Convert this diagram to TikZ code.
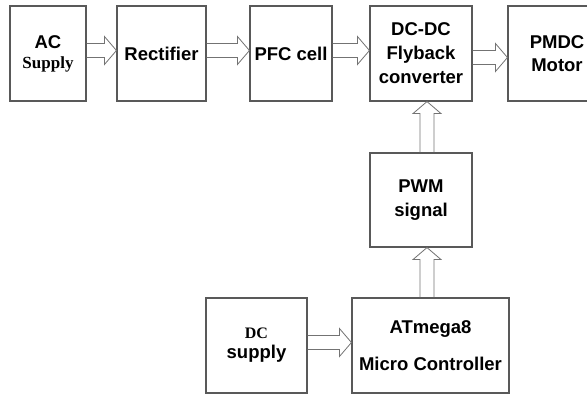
\documentclass[tikz,border=0pt]{standalone}
\usepackage{fontspec}
\setmainfont{Liberation Sans}
\newfontfamily\timesfont{Liberation Serif}
\usetikzlibrary{calc}
% hollow block arrow between two points
\newcommand{\blockarrow}[2]{%
  \coordinate (tail) at (#1);
  \coordinate (tip) at (#2);
  \coordinate (head) at ($(tip)!12pt!(tail)$);
  \draw[flow] ($(tail)!7pt!90:(tip)$) -- ($(head)!7pt!90:(tip)$) -- ($(head)!14pt!90:(tip)$) -- (tip)
    -- ($(head)!14pt!-90:(tip)$) -- ($(head)!7pt!-90:(tip)$) -- ($(tail)!7pt!-90:(tip)$);
}
\begin{document}
\begin{tikzpicture}[x=1pt, y=-1pt,
  block/.style={draw=black!65, line width=1.1pt, minimum height=95pt, inner sep=0pt, align=center,
    font=\fontsize{18.5}{24}\selectfont\bfseries},
  flow/.style={draw=black!55, line width=0.8pt}]
	\useasboundingbox (0,0) rectangle (587,394);
%	\draw[help lines] (0,0) grid[step=50] (587,394);
	\node[block, minimum width=76pt] (ac) at (48, 53.5) {AC\\[-4pt]{\timesfont\fontsize{17}{20}\selectfont Supply}};
	\node[block, minimum width=89pt] (rect) at (161.5, 53.5) {Rectifier};
	\node[block, minimum width=82pt] (pfc) at (291, 53.5) {PFC cell};
	\node[block, minimum width=102pt] (dcdc) at (421, 53.5) {DC-DC\\Flyback\\converter};
	\node[block, minimum width=98pt] (pmdc) at (557, 53.5) {PMDC\\[-1pt]Motor};
	\node[block, minimum width=102pt, minimum height=94pt] (pwm) at (421, 200) {PWM\\signal};
	\node[block, minimum width=157pt] (atm) at (430.5, 345.5) {ATmega8\\[13pt]Micro Controller};
	\node[block, minimum width=101pt] (dcs) at (256.5, 345.5) {{\timesfont\fontsize{16}{18}\selectfont DC}\\[-4pt]supply};
	\blockarrow{[yshift=3pt]ac.east}{[yshift=3pt]rect.west}
	\blockarrow{[yshift=3pt]rect.east}{[yshift=3pt]pfc.west}
	\blockarrow{[yshift=3pt]pfc.east}{[yshift=3pt]dcdc.west}
	\blockarrow{[yshift=-4pt]dcdc.east}{[yshift=-4pt]pmdc.west}
	\blockarrow{[xshift=6pt]pwm.north}{[xshift=6pt]dcdc.south}
	\blockarrow{[xshift=6pt]pwm.south |- atm.north}{[xshift=6pt]pwm.south}
	\blockarrow{[yshift=3pt]dcs.east}{[yshift=3pt]atm.west}
\end{tikzpicture}
\end{document}
